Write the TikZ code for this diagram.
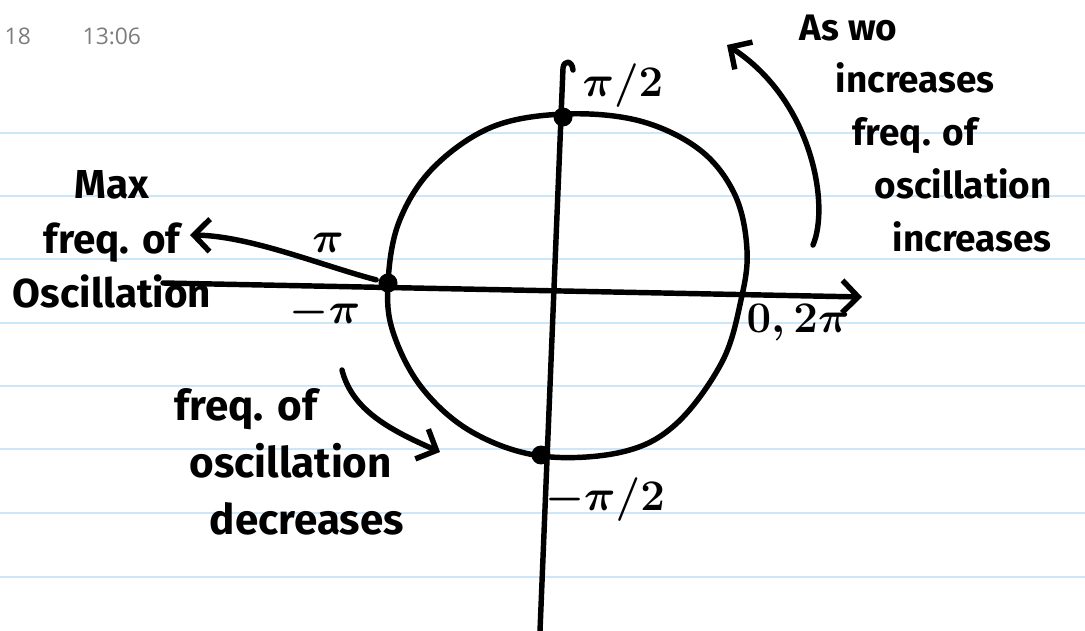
\documentclass[tikz,border=0pt]{standalone}
\usepackage{fontspec}
\setmainfont{Fira Sans}
\newfontfamily\stampfont{Open Sans}
\usepackage{xcolor}
\usetikzlibrary{positioning,arrows.meta}
\definecolor{ruleblue}{RGB}{205,230,248}
\definecolor{stampgrey}{RGB}{125,125,125}

\begin{document}
\begin{tikzpicture}[x=0.02cm,y=-0.02cm,>={Straight Barb[length=3.2mm,width=6.5mm]},line width=3.1pt,line cap=round,line join=round,every node/.style={inner sep=0pt}]
\tikzstyle{hand}=[font=\bfseries\fontsize{23}{31}\selectfont,align=left]
\tikzstyle{pilab}=[font=\boldmath\fontsize{24}{28}\selectfont]
\tikzstyle{dot}=[circle,fill,minimum size=0.38cm]
\tikzstyle{ruled}=[draw=ruleblue,line width=1.2pt]
\useasboundingbox (0,0) rectangle (1085,631);
\foreach \y in {133,196,259,323,386,449,513,577}
  \draw[ruled] (0,\y) -- (1085,\y);
\node[font=\stampfont\fontsize{13}{15}\selectfont,text=stampgrey,anchor=west] (day) at (2,36) {18};
\node[font=\stampfont\fontsize{13}{15}\selectfont,text=stampgrey,anchor=west] (time) at (80,36) {13:06};
\draw plot[smooth cycle,tension=0.6] coordinates {(565,114) (640,121) (700,150) (735,195) (747,250) (741,300) (722,362) (676,424) (622,452) (541,456) (472,432) (422,388) (393,332) (388,283) (399,222) (433,168) (492,127)};
\coordinate (xl) at (163,283);
\coordinate (xr) at (862,297);
\coordinate (yt) at (563,68);
\coordinate (yb) at (540,631);
\draw[->] (xl) -- (xr);
\draw (yb) -- (yt) .. controls (564,60) and (572,60) .. (573,70);
\node[dot] (top) at (563,117) {};
\node[dot] (left) at (388,283) {};
\node[dot] (bot) at (541,455) {};
\node[pilab] (halfpi) at (623,86) {$\pi/2$};
\node[pilab] (pi) at (328,243) {$\pi$};
\node[pilab] (mpi) at (325,313) {$-\pi$};
\node[pilab] (zero) at (798,323) {$0,2\pi$};
\node[pilab] (mhalfpi) at (605,500) {$-\pi/2$};
\node[hand,align=center,anchor=north] (maxfreq) at (112,168) {Max\\freq. of\\Oscillation};
\coordinate (maxtip) at (190,235);
\draw[->] (left) .. controls (320,265) and (250,236) .. (maxtip);
\node[hand,anchor=north west,font=\bfseries\fontsize{24}{32.5}\selectfont] (decfreq) at (172,386) {freq. of\\\hspace*{0.3cm}oscillation\\\hspace*{0.7cm}decreases};
\coordinate (decstart) at (342,370);
\draw[->] (decstart) .. controls (352,410) and (390,430) .. (440,452);
\node[hand,anchor=north west,font=\bfseries\fontsize{21}{30}\selectfont] (asw) at (797,12) {As wo\\\hspace*{0.72cm}increases\\\hspace*{1.06cm}freq. of\\\hspace*{1.5cm}oscillation\\\hspace*{1.86cm}increases};
\coordinate (incstart) at (813,245);
\draw[->] (incstart) .. controls (830,205) and (812,100) .. (727,45);
\end{tikzpicture}
\end{document}
